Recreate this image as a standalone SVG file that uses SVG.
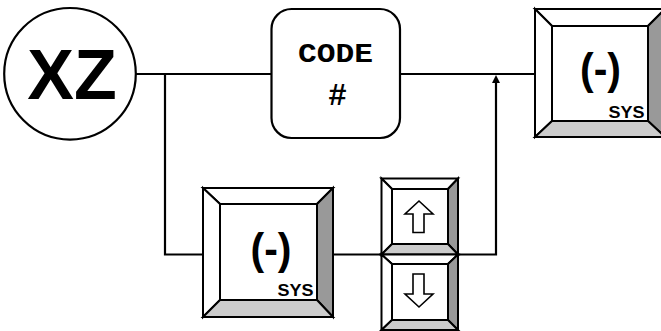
<svg xmlns="http://www.w3.org/2000/svg" width="661" height="331" viewBox="0 0 661 331">
<style>
.ln{fill:none;stroke:#000;stroke-width:2.2}
.bv{stroke:#000;stroke-width:2;stroke-linejoin:miter}
.w{fill:#fff}
.dk{fill:#999}
.lt{fill:#ccc}
.sans{font-family:"Liberation Sans",Arial,sans-serif;font-weight:bold;fill:#000}
.mono{font-family:"Liberation Mono","Courier New",monospace;font-weight:bold;fill:#000}
.arr{fill:#fff;stroke:#000;stroke-width:1.6;stroke-linejoin:miter}
</style>
<rect width="661" height="331" fill="#fff"/>
<g id="connectors">
<path class="ln" d="M136,74 H271.5"/>
<path class="ln" d="M165,74 V254.5 H203"/>
<path class="ln" d="M400,74 H535"/>
<path class="ln" d="M333,254.5 H381.5"/>
<path class="ln" d="M458,254.5 H496 V83"/>
<path d="M492,83 L496,75 L500,83 Z" fill="#000"/>
</g>
<g id="xz">
<circle cx="70" cy="73.8" r="65.8" fill="#fff" stroke="#000" stroke-width="2.2"/>
<text class="sans" x="72" y="99" font-size="70" text-anchor="middle">XZ</text>
</g>
<g id="code">
<rect x="271.5" y="9" width="128.5" height="129" rx="20" ry="20" fill="#fff" stroke="#000" stroke-width="2.2"/>
<text class="mono" x="335.5" y="62" font-size="27" text-anchor="middle" textLength="75" lengthAdjust="spacingAndGlyphs">CODE</text>
<text class="mono" x="337.5" y="105" font-size="31" text-anchor="middle">#</text>
</g>
<g id="sys-key-right">
<polygon class="bv w" points="535,9 665,9 648,26 552,26"/>
<polygon class="bv w" points="535,9 552,26 552,121 535,137"/>
<polygon class="bv dk" points="665,9 665,137 648,121 648,26"/>
<polygon class="bv lt" points="535,137 552,121 648,121 665,137"/>
<rect class="bv w" x="552" y="26" width="96" height="95"/>
<text class="sans" x="600.5" y="84" font-size="44" text-anchor="middle" textLength="41" lengthAdjust="spacingAndGlyphs">(-)</text>
<text class="sans" x="626.5" y="118" font-size="17" text-anchor="middle" textLength="36" lengthAdjust="spacingAndGlyphs">SYS</text>
</g>
<g id="sys-key-lower">
<polygon class="bv w" points="203,188 333,188 317,204 220,204"/>
<polygon class="bv w" points="203,188 220,204 220,300 203,317"/>
<polygon class="bv dk" points="333,188 333,317 317,300 317,204"/>
<polygon class="bv lt" points="203,317 220,300 317,300 333,317"/>
<rect class="bv w" x="220" y="204" width="97" height="96"/>
<text class="sans" x="271" y="263.5" font-size="44" text-anchor="middle" textLength="41" lengthAdjust="spacingAndGlyphs">(-)</text>
<text class="sans" x="295.5" y="296" font-size="17" text-anchor="middle" textLength="36" lengthAdjust="spacingAndGlyphs">SYS</text>
</g>
<g id="up-key">
<polygon class="bv w" points="381.5,178.5 458,178.5 448,189 392,189"/>
<polygon class="bv w" points="381.5,178.5 392,189 392,244 381.5,254.5"/>
<polygon class="bv dk" points="458,178.5 458,254.5 448,244 448,189"/>
<polygon class="bv lt" points="381.5,254.5 392,244 448,244 458,254.5"/>
<rect class="bv w" x="392" y="189" width="56" height="55"/>
<polygon class="arr" points="419,201 433,214 424,214 424,232.5 413,232.5 413,214 405,214"/>
</g>
<g id="down-key">
<polygon class="bv w" points="381.5,254.5 458,254.5 448,264 392,264"/>
<polygon class="bv w" points="381.5,254.5 392,264 392,320 381.5,330"/>
<polygon class="bv dk" points="458,254.5 458,330 448,320 448,264"/>
<polygon class="bv lt" points="381.5,330 392,320 448,320 458,330"/>
<rect class="bv w" x="392" y="264" width="56" height="56"/>
<polygon class="arr" points="413,274 424,274 424,294 433,294 419,307 405,294 413,294"/>
</g>
</svg>
